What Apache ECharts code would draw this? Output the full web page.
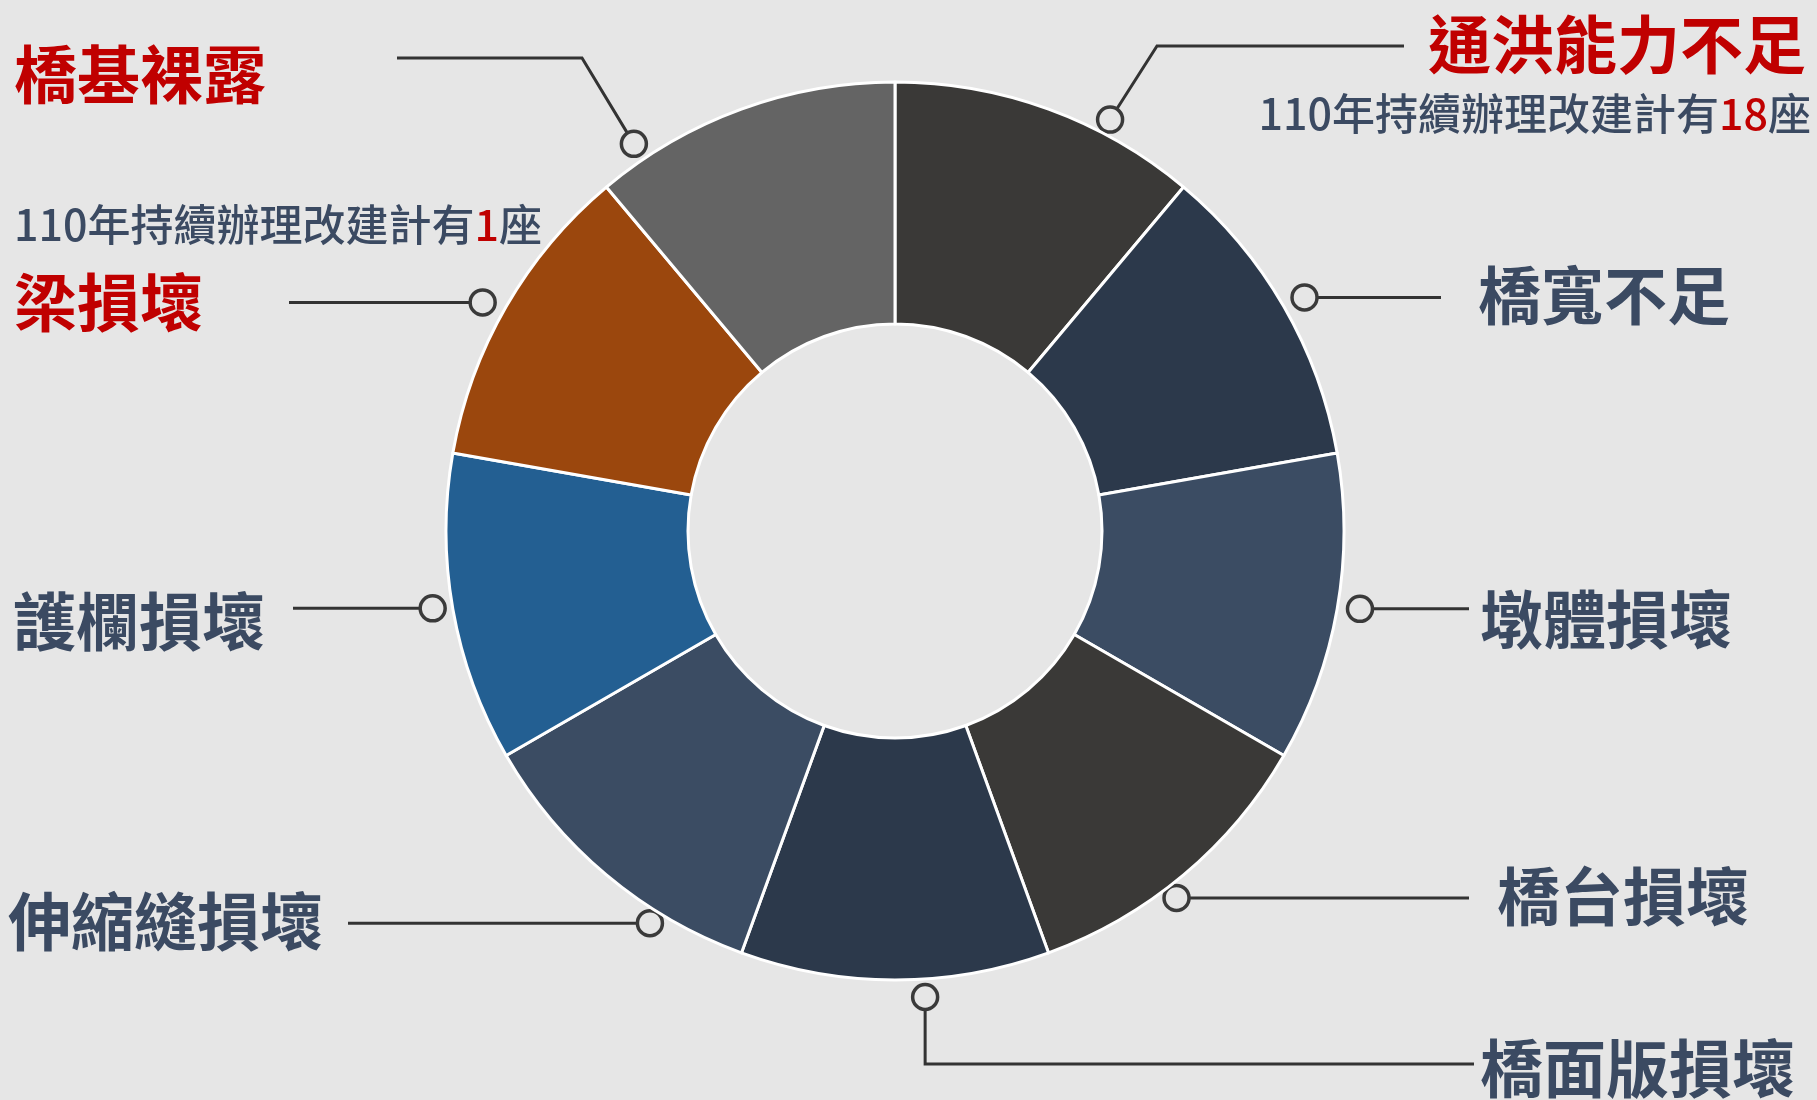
<!DOCTYPE html>
<html>
<head>
<meta charset="utf-8">
<title>橋梁損壞類型</title>
<script src="https://cdn.jsdelivr.net/npm/echarts@6/dist/echarts.min.js"></script>
<style>
	html, body { margin: 0; padding: 0; background: #e6e6e6; }
	#main { width: 1817px; height: 1100px; }
</style>
</head>
<body>
<div id="main"></div>
<script>
// categories, clockwise from 12 o'clock
var categories = ['通洪能力不足', '橋寬不足', '墩體損壞', '橋台損壞', '橋面版損壞', '伸縮縫損壞', '護欄損壞', '梁損壞', '橋基裸露'];
var values = [1, 1, 1, 1, 1, 1, 1, 1, 1];
// 110年持續辦理改建計有 N 座 (only two categories carry a note)
var rebuildCounts = [18, null, null, null, null, null, null, 1, null];
var notePrefix = '110年持續辦理改建計有';
var noteSuffix = '座';
var redLabels = [true, false, false, false, false, false, false, true, true];

var sliceColors = ['#3a3937', '#2c394b', '#3b4c63', '#3a3937', '#2c394b', '#3b4c63', '#235f92', '#9b470d', '#646464'];
var bg = '#e6e6e6';
var navy = '#3b4a62';
var red = '#c00000';

var center = [895, 531];
var outerR = 449;
var innerR = 207;

// label / leader layout (anchor angle offset from slice middle, anchor radius in % of outer radius,
// leader path after the anchor: null means "same as anchor")
var settings = [
	{ da: 7.6, r: 103.4, path: [[1157, 46], [1404, 46]], tx: 1806, ty: 44, align: 'right', nx: 1811, ny: 114, nalign: 'right' },
	{ da: 0.3, r: 105, path: [[1441, null]], tx: 1478, ty: 295, align: 'left' },
	{ da: -0.5, r: 105, path: [[1469, null]], tx: 1480, ty: 619, align: 'left' },
	{ da: 2.5, r: 103, path: [[1469, null]], tx: 1497, ty: 896, align: 'left' },
	{ da: -3.7, r: 104, path: [[null, 1064], [1474, 1064]], tx: 1480, ty: 1068, align: 'left' },
	{ da: -8, r: 103, path: [[348, null]], tx: 8, ty: 921, align: 'left' },
	{ da: 0.5, r: 104.4, path: [[293, null]], tx: 13, ty: 621, align: 'left' },
	{ da: -1, r: 105, path: [[289, null]], tx: 14, ty: 302, align: 'left', nx: 14, ny: 225, nalign: 'left' },
	{ da: -14, r: 104, path: [[582, 58], [397, 58]], tx: 14, ty: 74, align: 'left' }
];

var total = values.reduce(function(a, b) { return a + b; }, 0);
var acc = 0;
var anchors = [];
var pieData = [];
for (var i = 0; i < values.length; i++) {
	var mid = (acc + values[i] / 2) / total * 360;
	acc += values[i];
	anchors.push([settings[i].r, mid + settings[i].da]);
	pieData.push({ name: categories[i], value: values[i], itemStyle: { color: sliceColors[i] } });
}

var chart = echarts.init(document.getElementById('main'));

var option = {
	backgroundColor: bg,
	animation: false,
	polar: {
		center: center,
		radius: outerR * 1.2
	},
	radiusAxis: { type: 'value', min: 0, max: 120, show: false },
	angleAxis: { type: 'value', min: 0, max: 360, startAngle: 90, clockwise: true, show: false },
	series: [{
		type: 'pie',
		center: center,
		radius: [innerR, outerR],
		startAngle: 90,
		clockwise: true,
		silent: true,
		label: { show: false },
		labelLine: { show: false },
		itemStyle: { borderColor: '#ffffff', borderWidth: 3 },
		data: pieData
	}, {
		type: 'custom',
		coordinateSystem: 'polar',
		silent: true,
		data: anchors,
		renderItem: function(params, api) {
			var idx = params.dataIndex;
			var lay = settings[idx];
			var p = api.coord([api.value(0), api.value(1)]);
			var pts = [p];
			lay.path.forEach(function(q) {
				pts.push([q[0] == null ? p[0] : q[0], q[1] == null ? p[1] : q[1]]);
			});
			var children = [{
				type: 'polyline',
				shape: { points: pts },
				style: { stroke: '#333333', lineWidth: 3, fill: null }
			}, {
				type: 'circle',
				shape: { cx: p[0], cy: p[1], r: 12.5 },
				style: { fill: bg, stroke: '#3a3a3a', lineWidth: 3.5 }
			}, {
				type: 'text',
				x: lay.tx,
				y: lay.ty,
				style: {
					text: categories[idx],
					fill: redLabels[idx] ? red : navy,
					fontSize: 63,
					fontWeight: 'bold',
					fontFamily: '"Noto Sans CJK TC"',
					align: lay.align,
					verticalAlign: 'middle'
				}
			}];
			if (rebuildCounts[idx] != null) {
				children.push({
					type: 'text',
					x: lay.nx,
					y: lay.ny,
					style: {
						text: '{n|' + notePrefix + '}{r|' + rebuildCounts[idx] + '}{n|' + noteSuffix + '}',
						align: lay.nalign,
						verticalAlign: 'middle',
						rich: {
							n: { fill: navy, fontSize: 43, fontWeight: 500, fontFamily: '"Noto Sans CJK TC"' },
							r: { fill: red, fontSize: 43, fontWeight: 500, fontFamily: '"Noto Sans CJK TC"' }
						}
					}
				});
			}
			return { type: 'group', children: children };
		}
	}]
};

chart.setOption(option);
</script>
</body>
</html>
